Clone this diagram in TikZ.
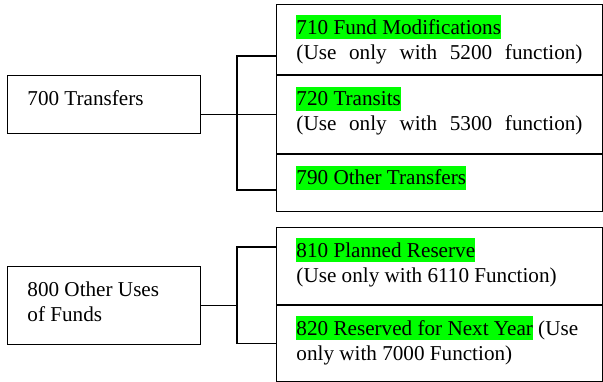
\documentclass[tikz,border=0pt]{standalone}
\usepackage{fontspec}
\setmainfont{Liberation Serif}
\usepackage{xcolor}
\definecolor{hlgreen}{RGB}{0,255,0}
\newcommand{\hl}[1]{{\setlength{\fboxsep}{0pt}\colorbox{hlgreen}{\rule[-2.8pt]{0pt}{13.6pt}#1}}}
\newcommand{\spreadline}[1]{\makebox[\hsize][s]{#1}}
\tikzset{
  cell/.style={draw, line width=0.6pt, anchor=north west, align=justify,
    inner xsep=11.3pt, inner ysep=0pt, text height=17pt,
    font=\fontsize{12}{14.2}\selectfont},
  leftcell/.style={cell, text width=86.8pt},
  rightcell/.style={cell, text width=162.2pt},
  link/.style={line width=0.6pt}
}
\begin{document}
\begin{tikzpicture}[x=0.567pt,y=0.567pt]
    \useasboundingbox (0,0) rectangle (603,381);

    \begin{scope}[]
    \node[leftcell, text depth=15.9pt] (t700) at (7,306) {700 Transfers};

    \node[rightcell, text depth=22.7pt] (t710) at (276,377)
      {\hl{710 Fund Modifications}\\\spreadline{(Use only with 5200 function)}};
    \node[rightcell, text depth=27.2pt] (t720) at (t710.south west)
      {\hl{720 Transits}\\\spreadline{(Use only with 5300 function)}};
    \node[rightcell, text depth=15.3pt] (t790) at (t720.south west)
      {\hl{790 Other Transfers}};

    \coordinate (j7a) at (237,325);
    \coordinate (j7b) at (237,191);
    \draw[link] (t710.west |- j7a) -- (j7a) -- (j7b) -- (t790.west |- j7b);
    \draw[link] (t700.east |- t720.west) -- (t720.west);
    \end{scope}

    \begin{scope}[]
    \node[leftcell, text depth=27.2pt] (t800) at (7,115) {800 Other Uses\\of Funds};

    \node[rightcell, text depth=26.6pt] (t810) at (276,154)
      {\hl{810 Planned Reserve}\\(Use only with 6110 Function)};
    \node[rightcell, text depth=26.1pt] (t820) at (t810.south west)
      {\mbox{\hl{820 Reserved for Next Year} (Use}\\only with 7000 Function)};

    \coordinate (j8a) at (237,134);
    \draw[link] (t810.west |- j8a) -- (j8a) |- (t820.west);
    \draw[link] (t800.east) -- (t800.east -| j8a);
    \end{scope}
\end{tikzpicture}
\end{document}
